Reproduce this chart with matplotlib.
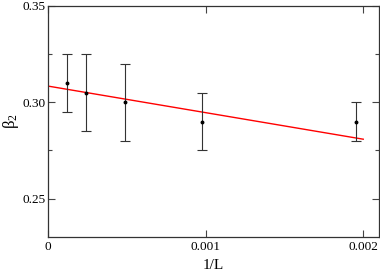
import matplotlib
matplotlib.use('Agg')
import matplotlib.pyplot as plt
import numpy as np
from matplotlib.ticker import MultipleLocator

plt.rcParams['font.family'] = ['Liberation Serif', 'DejaVu Serif']
plt.rcParams['mathtext.fontset'] = 'custom'
plt.rcParams['mathtext.rm'] = 'Liberation Serif'
plt.rcParams['mathtext.it'] = 'Liberation Serif'

# data: system sizes and beta_2 estimates with error bars
L = np.array([8192, 4096, 2048, 1024, 512])
beta2 = [0.310, 0.305, 0.300, 0.290, 0.290]
err_lo = [0.015, 0.020, 0.020, 0.015, 0.010]
err_hi = [0.015, 0.020, 0.020, 0.015, 0.010]

# linear fit line (intercept, slope)
fit_x = [0.0, 0.002]
fit_y = [0.3084, 0.2808]

x = 1.0 / L

fig = plt.figure(figsize=(3.8, 2.74), dpi=100)
ax = fig.add_axes([48 / 380, 37 / 274, 331 / 380, 231 / 274])

ax.errorbar(x, beta2, yerr=[err_lo, err_hi], fmt='o', color='black',
            ms=1.8, ecolor='#333333', elinewidth=0.8, capsize=3.5,
            capthick=0.8, zorder=3)
ax.plot(fit_x, fit_y, color='red', lw=1.0, zorder=2)

ax.set_xlim(0, 0.0021)
ax.set_ylim(0.23, 0.35)
ax.set_xticks([0, 0.001, 0.002])
ax.set_xticklabels(['0', '0.001', '0.002'])
ax.set_yticks([0.25, 0.30, 0.35])
ax.set_yticklabels(['0.25', '0.30', '0.35'])
ax.yaxis.set_minor_locator(MultipleLocator(0.025))

ax.tick_params(which='both', direction='in', top=True, right=True,
               labelsize=9.5, width=0.8, color='#444444')
ax.tick_params(which='major', length=5)
ax.tick_params(which='minor', length=3)
ax.tick_params(axis='y', pad=2)
ax.tick_params(axis='x', pad=3)
for s in ax.spines.values():
    s.set_linewidth(0.9)
    s.set_color('#333333')

ax.set_xlabel('1/L', fontsize=11, labelpad=4)
ax.set_ylabel('β$_\\mathrm{2}$', fontsize=12, labelpad=1)

plt.savefig('out.png', dpi=100)
